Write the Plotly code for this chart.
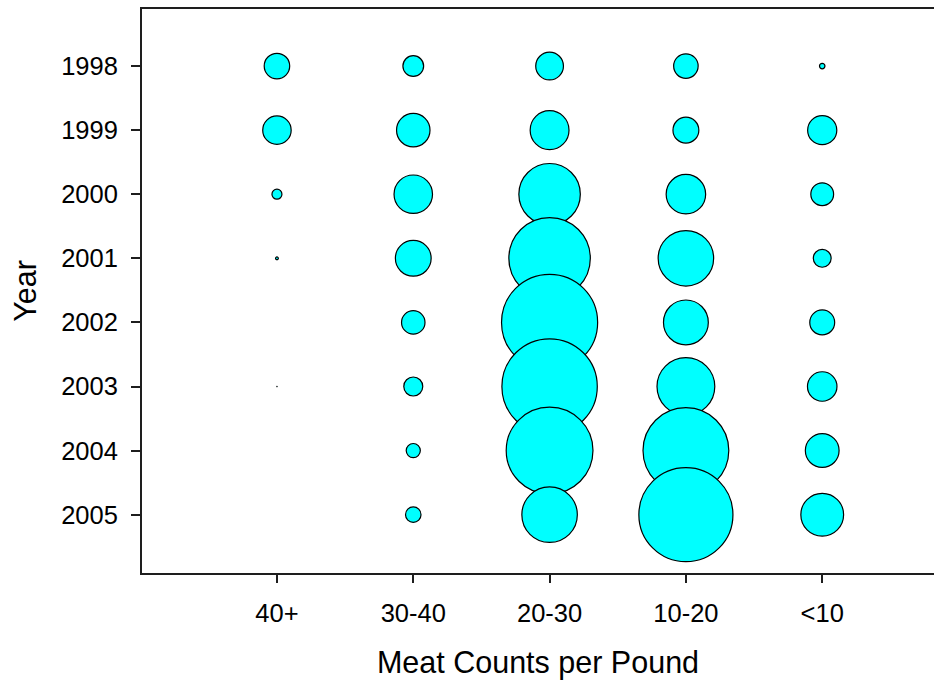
import plotly.graph_objects as go

categories = ["40+", "30-40", "20-30", "10-20", "<10"]
years = [1998, 1999, 2000, 2001, 2002, 2003, 2004, 2005]

# relative share (bubble area) per meat-count category, by year (None = no catch)
share_40plus = [6.5, 8.1, 1.0, 0.08, None, 0.0025, None, None]
share_30_40 = [4.3, 11.2, 14.8, 12.8, 5.5, 3.6, 2.0, 2.4]
share_20_30 = [7.7, 15.1, 37.8, 66.4, 92.4, 91.0, 75.3, 30.8]
share_10_20 = [6.0, 6.7, 15.6, 30.8, 20.1, 33.4, 73.6, 88.5]
share_lt10 = [0.3, 8.5, 5.2, 3.2, 6.2, 8.7, 11.4, 18.3]

series = [share_40plus, share_30_40, share_20_30, share_10_20, share_lt10]

xs, ys, vs = [], [], []
for cat, vals in zip(categories, series):
    for yr, v in zip(years, vals):
        if v is None:
            continue
        xs.append(cat)
        ys.append(yr)
        vs.append(v)

fig = go.Figure(go.Scatter(
    x=xs, y=ys, mode="markers",
    marker=dict(size=vs, sizemode="area", sizeref=0.02, sizemin=0,
                color="#00FFFF", line=dict(color="black", width=1.2), opacity=1),
    hoverinfo="skip", showlegend=False, cliponaxis=False,
))

font = "Liberation Sans, Arial, sans-serif"
axis_color = "#1e1e1e"
fig.update_layout(
    width=934, height=681,
    margin=dict(l=142, r=0, t=9, b=108),
    plot_bgcolor="white", paper_bgcolor="white",
    font=dict(family=font, color="black"),
)
fig.update_xaxes(
    type="category", categoryorder="array", categoryarray=categories,
    range=[-0.99, 4.82],
    showline=True, linecolor=axis_color, linewidth=2, mirror=True,
    ticks="outside", ticklen=8, tickwidth=2, tickcolor=axis_color,
    ticklabelstandoff=8,
    showgrid=False, zeroline=False,
    tickfont=dict(size=25.5, family=font, color="black"),
    title=dict(text="Meat Counts per Pound", font=dict(size=30.5, family=font, color="black"), standoff=26),
)
fig.update_yaxes(
    range=[2005.91, 1997.11], tickvals=years, ticktext=[str(y) for y in years],
    showline=True, linecolor=axis_color, linewidth=2, mirror=False,
    ticks="outside", ticklen=9, tickwidth=2, tickcolor=axis_color,
    ticklabelstandoff=8,
    showgrid=False, zeroline=False,
    tickfont=dict(size=25.5, family=font, color="black"),
    title=dict(text="Year", font=dict(size=30.5, family=font, color="black"), standoff=15),
)

fig.write_html(
    "out.html",
    config={"displayModeBar": False},
    post_script="document.body.style.margin='0';document.body.style.overflow='hidden';",
)
